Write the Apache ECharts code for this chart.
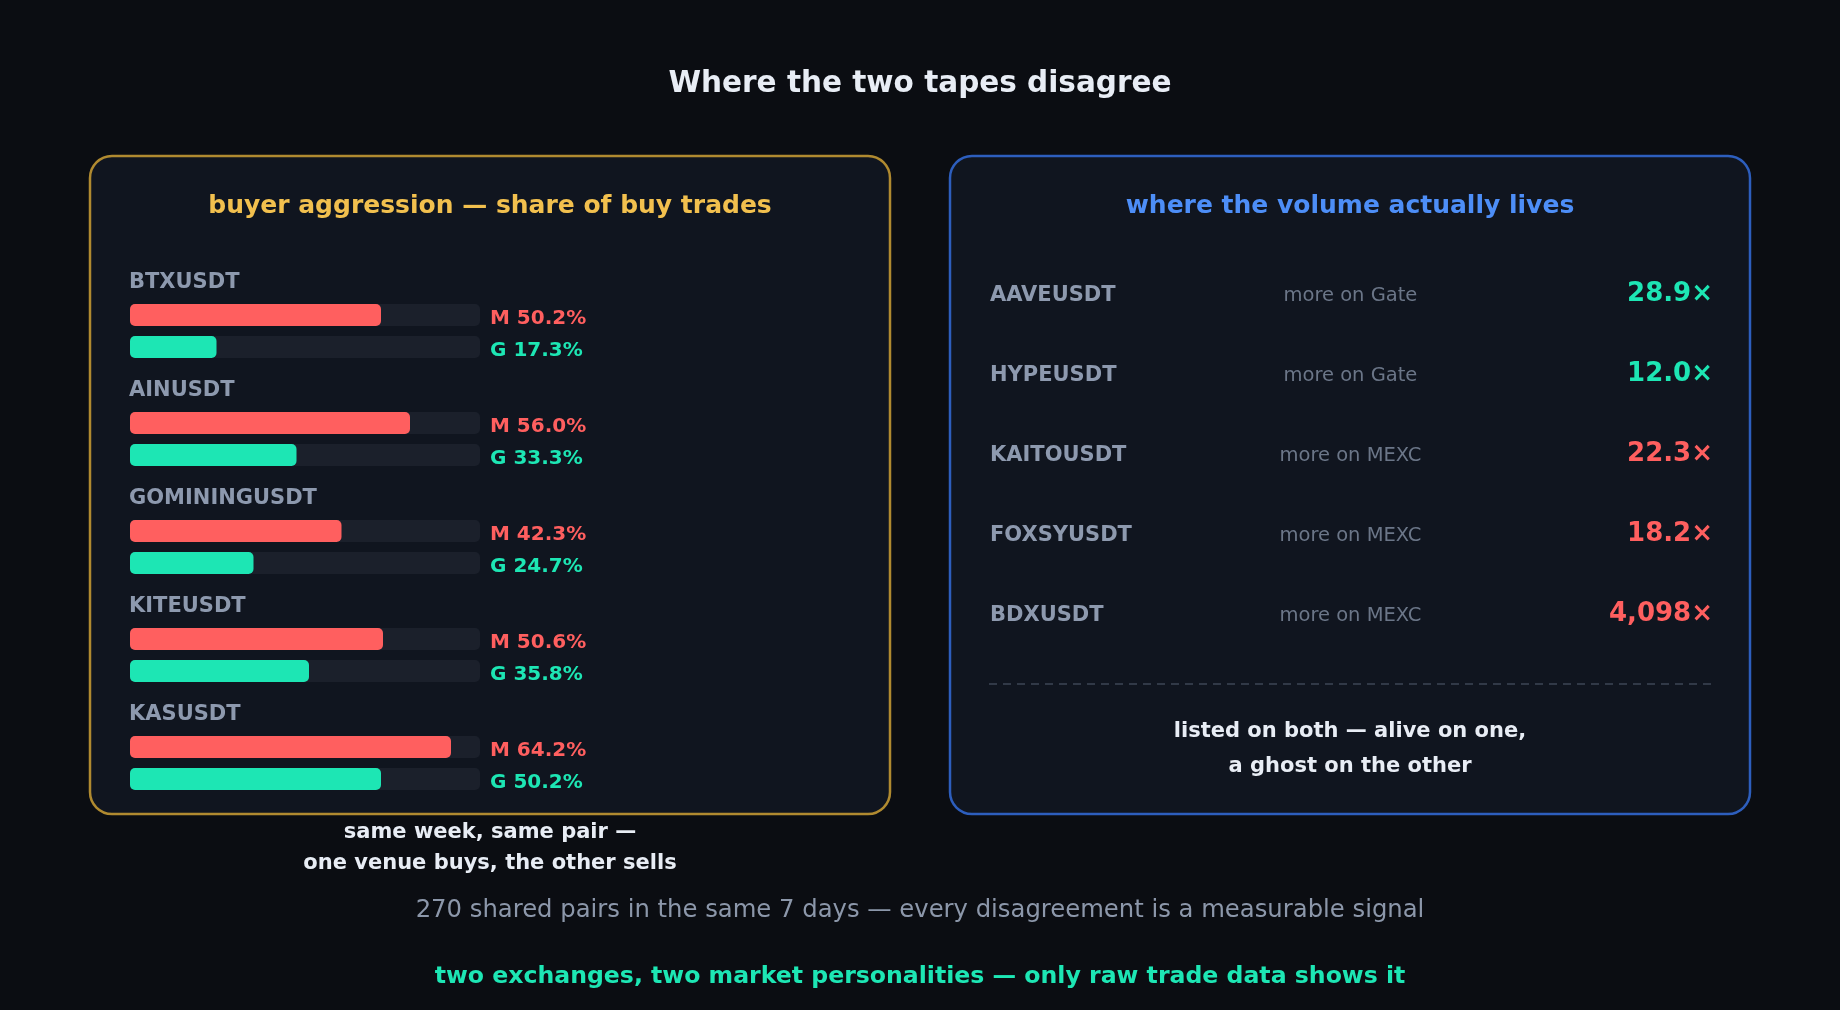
<!DOCTYPE html>
<html>
<head>
<meta charset="utf-8">
<script src="https://cdn.jsdelivr.net/npm/echarts@6.0.0/dist/echarts.min.js"></script>
<style>
html,body{margin:0;padding:0;background:#0b0d12;}
#c{width:1840px;height:1010px;}
</style>
</head>
<body>
<div id="c"></div>
<script>
// ---- data ----
const pairsLeft = ['BTXUSDT', 'AINUSDT', 'GOMININGUSDT', 'KITEUSDT', 'KASUSDT'];
const mexcBuyShare = [50.2, 56.0, 42.3, 50.6, 64.2];
const gateBuyShare = [17.3, 33.3, 24.7, 35.8, 50.2];
const shareAxisMax = 70;
const venueTags = ['M', 'G'];

const pairsRight = ['AAVEUSDT', 'HYPEUSDT', 'KAITOUSDT', 'FOXSYUSDT', 'BDXUSDT'];
const venueHeavier = ['Gate', 'Gate', 'MEXC', 'MEXC', 'MEXC'];
const volumeRatio = [28.9, 12.0, 22.3, 18.2, 4098];

const titleText = 'Where the two tapes disagree';
const leftTitle = 'buyer aggression — share of buy trades';
const rightTitle = 'where the volume actually lives';
const leftNote = ['same week, same pair —', 'one venue buys, the other sells'];
const rightNote = ['listed on both — alive on one,', 'a ghost on the other'];
const subtitle = '270 shared pairs in the same 7 days — every disagreement is a measurable signal';
const footer = 'two exchanges, two market personalities — only raw trade data shows it';

// ---- style ----
const FONT = '"DejaVu Sans"';
const RED = '#ff5f5f', GREEN = '#1de6b4';
const GRAY = '#8d99ae', DIM = '#6b7688', WHITE = '#e8edf5';

function txt(x, y, text, size, weight, color, align) {
  align = align || 'center';
  return {
    type: 'text', x: x, y: y, z: 10, silent: true,
    style: {
      text: text, fill: color,
      font: weight + ' ' + size + 'px ' + FONT,
      align: align, verticalAlign: 'middle',
      textAlign: align, textVerticalAlign: 'middle'
    }
  };
}

const grids = [], xAxes = [], yAxes = [], series = [], graphics = [];

// panels
graphics.push({
  type: 'rect', z: 0, silent: true,
  shape: { x: 90, y: 156, width: 800, height: 658, r: 22 },
  style: { fill: '#10151f', stroke: '#b08a30', lineWidth: 2.5 }
});
graphics.push({
  type: 'rect', z: 0, silent: true,
  shape: { x: 950, y: 156, width: 800, height: 658, r: 22 },
  style: { fill: '#10151f', stroke: '#2d5ebd', lineWidth: 2.5 }
});

graphics.push(txt(920, 84.5, titleText, 29.5, 'bold', WHITE));
graphics.push(txt(490, 206, leftTitle, 25, 'bold', '#f2c04e'));
graphics.push(txt(1350, 206, rightTitle, 25, 'bold', '#4d8ef7'));

// left: one grid per pair
pairsLeft.forEach(function (p, i) {
  const top = 299 + 108 * i;
  grids.push({ left: 130, top: top, width: 350, height: 64 });
  xAxes.push({ type: 'value', gridIndex: i, min: 0, max: shareAxisMax, show: false });
  const vals = [mexcBuyShare[i], gateBuyShare[i]];
  yAxes.push({
    type: 'category', gridIndex: i, data: venueTags, inverse: true, position: 'right',
    axisLine: { show: false }, axisTick: { show: false }, splitLine: { show: false },
    axisLabel: {
      margin: 10,
      formatter: function (v, idx) {
        return '{' + (idx === 0 ? 'm' : 'g') + '|' + venueTags[idx] + ' ' + vals[idx].toFixed(1) + '%}';
      },
      rich: {
        m: { color: RED, fontFamily: FONT, fontWeight: 'bold', fontSize: 20, padding: [8, 0, 0, 0] },
        g: { color: GREEN, fontFamily: FONT, fontWeight: 'bold', fontSize: 20, padding: [8, 0, 0, 0] }
      }
    }
  });
  series.push({
    type: 'bar', xAxisIndex: i, yAxisIndex: i, barWidth: 22, silent: true,
    showBackground: true,
    backgroundStyle: { color: '#1b202b', borderRadius: 5 },
    data: [
      { value: vals[0], itemStyle: { color: RED, borderRadius: 5 } },
      { value: vals[1], itemStyle: { color: GREEN, borderRadius: 5 } }
    ]
  });
  graphics.push(txt(129, 283 + 108 * i, p, 21, 'bold', GRAY, 'left'));
});

// right: table-like rows through a category axis
const gi = pairsLeft.length;
grids.push({ left: 990, top: 256, width: 723, height: 400 });
xAxes.push({ type: 'value', gridIndex: gi, min: 0, max: 1, show: false });
yAxes.push({ type: 'category', gridIndex: gi, data: pairsRight, inverse: true, show: false });

function rowSeries(xPos, align, fmt, styleFn) {
  return {
    type: 'scatter', xAxisIndex: gi, yAxisIndex: gi, symbolSize: 1, silent: true,
    itemStyle: { color: 'rgba(0,0,0,0)', opacity: 1 },
    data: pairsRight.map(function (p, k) {
      const st = styleFn(k);
      return {
        value: [xPos, p],
        label: Object.assign({
          show: true, position: 'inside', align: align, verticalAlign: 'middle',
          formatter: fmt(k), fontFamily: FONT, opacity: 1
        }, st)
      };
    })
  };
}
series.push(rowSeries(0, 'left', function (k) { return pairsRight[k]; },
  function () { return { color: GRAY, fontWeight: 'bold', fontSize: 21 }; }));
series.push(rowSeries(0.4985, 'center', function (k) { return 'more on ' + venueHeavier[k]; },
  function () { return { color: DIM, fontWeight: 'normal', fontSize: 19.5 }; }));
series.push(rowSeries(1, 'right', function (k) {
    const r = volumeRatio[k];
    return (r >= 1000 ? r.toLocaleString('en-US') : r.toFixed(1)) + '×';
  },
  function (k) { return { color: venueHeavier[k] === 'Gate' ? GREEN : RED, fontWeight: 'bold', fontSize: 26, offset: [0, -1.5] }; }));

// divider + notes
graphics.push({
  type: 'line', z: 5, silent: true,
  shape: { x1: 989, y1: 684, x2: 1711, y2: 684 },
  style: { stroke: '#3d4556', lineWidth: 1.5, lineDash: [8, 6] }
});
graphics.push(txt(1350, 732, rightNote[0], 21, 'bold', WHITE));
graphics.push(txt(1350, 767, rightNote[1], 21, 'bold', WHITE));
graphics.push(txt(490, 832.5, leftNote[0], 21, 'bold', WHITE));
graphics.push(txt(490, 863.5, leftNote[1], 21, 'bold', WHITE));
graphics.push(txt(920, 911, subtitle, 24.3, 'normal', '#8c97aa'));
graphics.push(txt(920, 977, footer, 23.6, 'bold', GREEN));

const chart = echarts.init(document.getElementById('c'), null, { renderer: 'canvas' });
chart.setOption({
  backgroundColor: '#0b0d12',
  animation: false,
  grid: grids,
  xAxis: xAxes,
  yAxis: yAxes,
  series: series,
  graphic: { elements: graphics }
});
</script>
</body>
</html>
